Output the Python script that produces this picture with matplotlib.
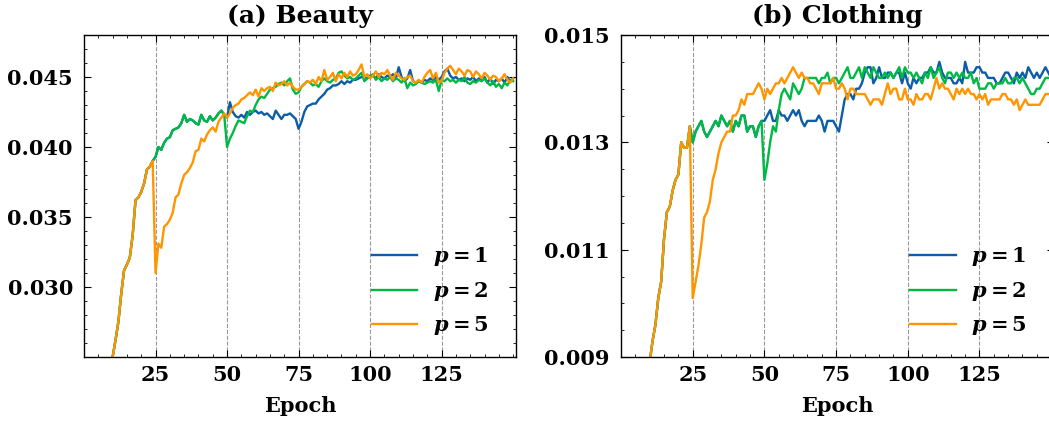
import matplotlib
matplotlib.use("Agg")
import matplotlib.pyplot as plt
from matplotlib.ticker import MultipleLocator
import numpy as np

# epochs 9..150 (earlier epochs sit below the visible range)
epochs = np.arange(9, 151)
labels = [r"$p=1$", r"$p=2$", r"$p=5$"]
colors = ["#0C5DA5", "#00B945", "#FF9500"]
milestones = [25, 50, 75, 100, 125]

# ---- Beauty ----
beauty_warmup = [0.0238, 0.0250, 0.0262, 0.0275, 0.0295, 0.0312, 0.0316, 0.0321,
                 0.0337, 0.0362, 0.0364, 0.0368, 0.0374, 0.0384, 0.0386, 0.0390]
beauty_p5_rest = [
    0.0310, 0.0331, 0.0328, 0.0343, 0.0345, 0.0348, 0.0353, 0.0364, 0.0366, 0.0374,
    0.0380, 0.0382, 0.0385, 0.0389, 0.0397, 0.0398, 0.0406, 0.0404, 0.0409, 0.0412,
    0.0414, 0.0411, 0.0418, 0.0421, 0.0424, 0.0421,
    0.0424, 0.0428, 0.0430, 0.0431, 0.0434, 0.0435, 0.0437, 0.0439, 0.0437, 0.0441,
    0.0436, 0.0442, 0.0440, 0.0442, 0.0443, 0.0440, 0.0446, 0.0444, 0.0445, 0.0447,
    0.0444, 0.0446, 0.0443, 0.0441, 0.0441, 0.0443, 0.0445, 0.0447, 0.0446, 0.0448,
    0.0445, 0.0450, 0.0447, 0.0455, 0.0448, 0.0450, 0.0453, 0.0447, 0.0452, 0.0449,
    0.0453, 0.0450, 0.0454, 0.0451, 0.0452, 0.0455, 0.0459, 0.0450, 0.0452, 0.0449,
    0.0451, 0.0454, 0.0450, 0.0453, 0.0452, 0.0455, 0.0451, 0.0448, 0.0453, 0.0451,
    0.0449, 0.0448, 0.0450, 0.0451, 0.0447, 0.0446, 0.0448, 0.0446, 0.0450, 0.0453,
    0.0455, 0.0449, 0.0453, 0.0446, 0.0447, 0.0453, 0.0456, 0.0458, 0.0455, 0.0452,
    0.0456, 0.0454, 0.0451, 0.0455, 0.0454, 0.0450, 0.0454, 0.0452, 0.0449, 0.0453,
    0.0451, 0.0448, 0.0451, 0.0450, 0.0447, 0.0449, 0.0452, 0.0448, 0.0446, 0.0449]
beauty_p12_mid = [
    0.0393, 0.0400, 0.0398, 0.0403, 0.0406, 0.0407, 0.0412, 0.0413, 0.0414, 0.0417,
    0.0423, 0.0418, 0.0420, 0.0419, 0.0417, 0.0416, 0.0423, 0.0419, 0.0418, 0.0422,
    0.0419, 0.0421, 0.0424, 0.0426, 0.0423]
beauty_p2_rest = [
    0.0400,
    0.0406, 0.0410, 0.0415, 0.0419, 0.0418, 0.0417, 0.0422, 0.0426, 0.0425, 0.0430,
    0.0434, 0.0436, 0.0435, 0.0438, 0.0441, 0.0442, 0.0443, 0.0445, 0.0446, 0.0444,
    0.0447, 0.0449, 0.0441, 0.0438, 0.0439, 0.0443, 0.0445, 0.0447, 0.0446, 0.0444,
    0.0445, 0.0443, 0.0447, 0.0449, 0.0447, 0.0446, 0.0448, 0.0449, 0.0453, 0.0454,
    0.0451, 0.0449, 0.0450, 0.0448, 0.0449, 0.0451, 0.0453, 0.0447, 0.0449, 0.0450,
    0.0452, 0.0448, 0.0450, 0.0447, 0.0449, 0.0448, 0.0450, 0.0447, 0.0449, 0.0448,
    0.0446, 0.0449, 0.0442, 0.0446, 0.0444, 0.0445, 0.0447, 0.0446, 0.0445, 0.0446,
    0.0447, 0.0446, 0.0448, 0.0440, 0.0448, 0.0447, 0.0449, 0.0447, 0.0448, 0.0446,
    0.0448, 0.0447, 0.0450, 0.0446, 0.0445, 0.0447, 0.0446, 0.0448, 0.0447, 0.0449,
    0.0446, 0.0444, 0.0447, 0.0443, 0.0445, 0.0442, 0.0446, 0.0444, 0.0448, 0.0447]
beauty_p1_rest = [
    0.0421,
    0.0432, 0.0425, 0.0422, 0.0421, 0.0423, 0.0421, 0.0425, 0.0423, 0.0425, 0.0426,
    0.0424, 0.0425, 0.0423, 0.0424, 0.0422, 0.0420, 0.0426, 0.0423, 0.0420, 0.0423,
    0.0423, 0.0424, 0.0422, 0.0420, 0.0413, 0.0418, 0.0425, 0.0429, 0.0430, 0.0431,
    0.0431, 0.0434, 0.0436, 0.0438, 0.0441, 0.0442, 0.0444, 0.0444, 0.0445, 0.0447,
    0.0445, 0.0447, 0.0446, 0.0448, 0.0448, 0.0449, 0.0450, 0.0450, 0.0449, 0.0451,
    0.0451, 0.0449, 0.0452, 0.0450, 0.0449, 0.0451, 0.0450, 0.0452, 0.0449, 0.0457,
    0.0450, 0.0447, 0.0449, 0.0455, 0.0447, 0.0446, 0.0447, 0.0446, 0.0448, 0.0447,
    0.0449, 0.0448, 0.0450, 0.0448, 0.0450, 0.0454, 0.0456, 0.0451, 0.0449, 0.0450,
    0.0448, 0.0449, 0.0447, 0.0449, 0.0448, 0.0450, 0.0447, 0.0449, 0.0448, 0.0450,
    0.0446, 0.0449, 0.0445, 0.0448, 0.0447, 0.0449, 0.0446, 0.0450, 0.0447, 0.0449]

# ---- Clothing ----
cloth_warmup = [0.0085, 0.0089, 0.0093, 0.0096, 0.0101, 0.0104, 0.0112, 0.0117,
                0.0118, 0.0121, 0.0123, 0.0124, 0.0130, 0.0129, 0.0129, 0.0133]
cloth_p5_rest = [
    0.0101, 0.0104, 0.0107, 0.0111, 0.0116, 0.0117, 0.0119, 0.0123, 0.0125, 0.0128,
    0.0130, 0.0131, 0.0132, 0.0132, 0.0135, 0.0135, 0.0136, 0.0138, 0.0137, 0.0139,
    0.0139, 0.0139, 0.0140, 0.0141, 0.0140, 0.0138,
    0.0140, 0.0139, 0.0140, 0.0141, 0.0141, 0.0142, 0.0141, 0.0142, 0.0143, 0.0144,
    0.0143, 0.0142, 0.0143, 0.0142, 0.0142, 0.0141, 0.0141, 0.0140, 0.0139, 0.0141,
    0.0141, 0.0141, 0.0141, 0.0142, 0.0140, 0.0140, 0.0141, 0.0140, 0.0138, 0.0140,
    0.0140, 0.0139, 0.0139, 0.0139, 0.0139, 0.0138, 0.0137, 0.0138, 0.0138, 0.0138,
    0.0137, 0.0139, 0.0141, 0.0139, 0.0140, 0.0140, 0.0138, 0.0138, 0.0140, 0.0138,
    0.0138, 0.0137, 0.0139, 0.0138, 0.0138, 0.0139, 0.0139, 0.0138, 0.0140, 0.0142,
    0.0140, 0.0141, 0.0140, 0.0140, 0.0139, 0.0138, 0.0140, 0.0139, 0.0140, 0.0139,
    0.0140, 0.0139, 0.0139, 0.0138, 0.0139, 0.0138, 0.0139, 0.0137, 0.0138, 0.0138,
    0.0138, 0.0138, 0.0139, 0.0139, 0.0138, 0.0138, 0.0137, 0.0138, 0.0136, 0.0137,
    0.0138, 0.0137, 0.0137, 0.0137, 0.0137, 0.0137, 0.0138, 0.0139, 0.0139, 0.0139]
cloth_p12_mid = [
    0.0130, 0.0132, 0.0133, 0.0134, 0.0132, 0.0131, 0.0132, 0.0133, 0.0134, 0.0133,
    0.0135, 0.0134, 0.0133, 0.0134, 0.0132, 0.0134, 0.0133, 0.0135, 0.0135, 0.0132,
    0.0133, 0.0133, 0.0131, 0.0133, 0.0134]
cloth_p2_rest = [
    0.0123,
    0.0126, 0.0130, 0.0133, 0.0132, 0.0136, 0.0139, 0.0140, 0.0139, 0.0138, 0.0141,
    0.0140, 0.0139, 0.0140, 0.0142, 0.0142, 0.0142, 0.0142, 0.0142, 0.0141, 0.0142,
    0.0142, 0.0143, 0.0141, 0.0142, 0.0142, 0.0141, 0.0142, 0.0143, 0.0144, 0.0142,
    0.0142, 0.0143, 0.0144, 0.0142, 0.0144, 0.0143, 0.0142, 0.0144, 0.0143, 0.0142,
    0.0142, 0.0143, 0.0142, 0.0143, 0.0142, 0.0143, 0.0144, 0.0142, 0.0144, 0.0143,
    0.0143, 0.0142, 0.0143, 0.0142, 0.0141, 0.0143, 0.0142, 0.0144, 0.0142, 0.0143,
    0.0144, 0.0142, 0.0141, 0.0143, 0.0143, 0.0142, 0.0143, 0.0142, 0.0143, 0.0142,
    0.0142, 0.0143, 0.0141, 0.0142, 0.0140, 0.0140, 0.0140, 0.0141, 0.0141, 0.0140,
    0.0141, 0.0141, 0.0141, 0.0142, 0.0141, 0.0141, 0.0142, 0.0142, 0.0141, 0.0142,
    0.0141, 0.0140, 0.0139, 0.0139, 0.0140, 0.0140, 0.0141, 0.0142, 0.0142, 0.0142]
cloth_p1_rest = [
    0.0134,
    0.0135, 0.0136, 0.0134, 0.0134, 0.0136, 0.0135, 0.0135, 0.0134, 0.0135, 0.0136,
    0.0135, 0.0136, 0.0134, 0.0133, 0.0134, 0.0134, 0.0134, 0.0134, 0.0135, 0.0134,
    0.0132, 0.0134, 0.0134, 0.0134, 0.0133, 0.0132, 0.0135, 0.0138, 0.0139, 0.0139,
    0.0138, 0.0140, 0.0140, 0.0141, 0.0143, 0.0144, 0.0144, 0.0141, 0.0142, 0.0144,
    0.0142, 0.0142, 0.0143, 0.0143, 0.0142, 0.0143, 0.0143, 0.0141, 0.0143, 0.0141,
    0.0140, 0.0142, 0.0141, 0.0142, 0.0142, 0.0143, 0.0143, 0.0144, 0.0143, 0.0143,
    0.0145, 0.0143, 0.0142, 0.0142, 0.0142, 0.0141, 0.0141, 0.0142, 0.0141, 0.0145,
    0.0143, 0.0143, 0.0143, 0.0144, 0.0144, 0.0143, 0.0143, 0.0142, 0.0142, 0.0142,
    0.0141, 0.0141, 0.0142, 0.0143, 0.0143, 0.0142, 0.0141, 0.0143, 0.0142, 0.0143,
    0.0142, 0.0144, 0.0143, 0.0142, 0.0143, 0.0142, 0.0143, 0.0144, 0.0143, 0.0142]

beauty = [beauty_warmup + beauty_p12_mid + beauty_p1_rest,
          beauty_warmup + beauty_p12_mid + beauty_p2_rest,
          beauty_warmup + beauty_p5_rest]
cloth = [cloth_warmup + cloth_p12_mid + cloth_p1_rest,
         cloth_warmup + cloth_p12_mid + cloth_p2_rest,
         cloth_warmup + cloth_p5_rest]

plt.rcParams.update({
    "font.family": "DejaVu Serif",
    "font.weight": "bold",
    "axes.titleweight": "bold",
    "axes.labelweight": "bold",
    "mathtext.fontset": "custom",
    "mathtext.rm": "DejaVu Serif:bold",
    "mathtext.it": "DejaVu Serif:italic:bold",
    "mathtext.bf": "DejaVu Serif:bold",
    "xtick.direction": "in",
    "ytick.direction": "in",
    "xtick.top": True,
    "ytick.right": True,
    "xtick.major.size": 5,
    "ytick.major.size": 5,
    "xtick.minor.size": 2.5,
    "ytick.minor.size": 2.5,
    "axes.linewidth": 1.0,
})

fig = plt.figure(figsize=(10.49, 4.25), dpi=100)
ax1 = fig.add_axes([0.0801, 0.16, 0.4118, 0.7576])
ax2 = fig.add_axes([0.5920, 0.16, 0.4128, 0.7576])

panels = [
    (ax1, beauty, "(a) Beauty", (0.025, 0.048), [0.030, 0.035, 0.040, 0.045], 0.001),
    (ax2, cloth, "(b) Clothing", (0.009, 0.015), [0.009, 0.011, 0.013, 0.015], 0.0005),
]

for ax, series, title, ylim, yticks, yminor in panels:
    for m in milestones:
        ax.axvline(m, color="gray", linestyle="--", linewidth=0.8, alpha=0.8, zorder=1)
    for vals, lab, c in zip(series, labels, colors):
        ax.plot(epochs, vals, color=c, linewidth=1.7, label=lab, zorder=2)
    ax.set_xlim(0, 151)
    ax.set_ylim(*ylim)
    ax.set_xticks(milestones)
    ax.xaxis.set_minor_locator(MultipleLocator(5))
    ax.set_yticks(yticks)
    ax.set_yticklabels([f"{t:.3f}" for t in yticks])
    ax.yaxis.set_minor_locator(MultipleLocator(yminor))
    ax.tick_params(axis="x", which="major", labelsize=15, pad=6)
    ax.tick_params(axis="y", which="major", labelsize=15, pad=8)
    ax.set_title(title, fontsize=18, pad=9)
    ax.set_xlabel("Epoch", fontsize=15, labelpad=8)
    ax.legend(loc="lower right", bbox_to_anchor=(0.981, 0.003), frameon=False,
              fontsize=15, handlelength=2.2, handletextpad=0.75,
              labelspacing=0.55)

fig.savefig("out.png", dpi=100)
